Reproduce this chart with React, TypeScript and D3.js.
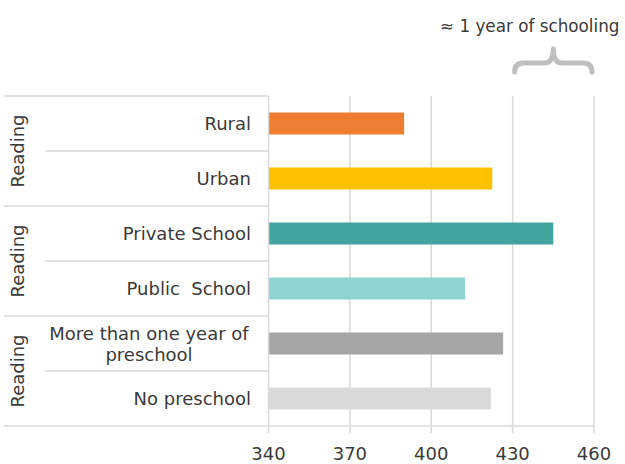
import React from "react";
import * as d3 from "d3";

const categories = ["Rural", "Urban", "Private School", "Public  School", "More than one year of|preschool", "No preschool"];
const values = [390, 422.5, 445, 412.5, 426.5, 422];
const colors = ["#ED7D31", "#FFC000", "#43A39E", "#8DD3CF", "#A5A5A5", "#D9D9D9"];
const groups = ["Reading", "Reading", "Reading"];
const ticks = [340, 370, 400, 430, 460];
const annotation = "≈ 1 year of schooling";
const braceFrom = 430;
const braceTo = 460;

const W = 625;
const H = 464;
const FONT = "'DejaVu Sans', sans-serif";
const TEXT = "#3a3a3a";
const GRID = "#d9d9d9";

export default function App() {
  const left = 268.5;
  const right = 594;
  const top = 96;
  const bottom = 426;
  const x = d3.scaleLinear().domain([340, 460]).range([left, right]);
  const y = d3
    .scaleBand<number>()
    .domain(d3.range(categories.length))
    .range([top, bottom])
    .paddingInner(0.6)
    .paddingOuter(0.3);
  const step = y.step();
  const boundaries = d3.range(categories.length + 1).map((i) => top + i * step);

  const bx0 = x(braceFrom) + 2;
  const bx1 = x(braceTo) - 2;
  const bm = (bx0 + bx1) / 2;
  const byEnd = 72;
  const byMid = 63;
  const byTop = 49;
  const brace = d3.path();
  brace.moveTo(bx0, byEnd);
  brace.quadraticCurveTo(bx0, byMid, bx0 + 9, byMid);
  brace.lineTo(bm - 9, byMid);
  brace.quadraticCurveTo(bm, byMid, bm, byTop);
  brace.quadraticCurveTo(bm, byMid, bm + 9, byMid);
  brace.lineTo(bx1 - 9, byMid);
  brace.quadraticCurveTo(bx1, byMid, bx1, byEnd);

  return (
    <svg
      width={W}
      height={H}
      style={{ position: "absolute", left: 0, top: 0, background: "#fff" }}
      fontFamily={FONT}
    >
      {ticks.slice(1).map((t) => (
        <line key={"g" + t} x1={x(t)} x2={x(t)} y1={top} y2={bottom + 7} stroke={GRID} strokeWidth={1.5} />
      ))}
      {boundaries.map((b, i) => (
        <line
          key={"s" + i}
          x1={i % 2 === 0 ? 4 : 45}
          x2={left}
          y1={b}
          y2={b}
          stroke={GRID}
          strokeWidth={1.5}
        />
      ))}
      {values.map((v, i) => (
        <rect key={"b" + i} x={x(340)} y={y(i)} width={x(v) - x(340)} height={y.bandwidth()} fill={colors[i]} />
      ))}
      <line x1={left} x2={left} y1={top} y2={bottom + 7} stroke={GRID} strokeWidth={1.5} />
      <line x1={left} x2={right} y1={bottom} y2={bottom} stroke={GRID} strokeWidth={1.5} />
      {ticks.map((t) => (
        <text key={"t" + t} x={x(t)} y={460} textAnchor="middle" fontSize={18} fill={TEXT}>
          {t}
        </text>
      ))}
      {categories.map((c, i) => {
        const cy = (y(i) as number) + y.bandwidth() / 2;
        const parts = c.split("|");
        if (parts.length === 1) {
          return (
            <text key={"c" + i} x={251} y={cy + 6.5} textAnchor="end" fontSize={18} fill={TEXT} style={{ whiteSpace: "pre" }}>
              {c}
            </text>
          );
        }
        return (
          <text key={"c" + i} textAnchor="middle" fontSize={18} fill={TEXT}>
            {parts.map((p, j) => (
              <tspan key={j} x={149} y={cy - 4 + j * 21.7}>
                {p}
              </tspan>
            ))}
          </text>
        );
      })}
      {groups.map((g, i) => {
        const cy = top + step * (2 * i + 1);
        return (
          <text key={"gr" + i} transform={`translate(24,${cy}) rotate(-90)`} textAnchor="middle" fontSize={18} fill={TEXT}>
            {g}
          </text>
        );
      })}
      <text x={440} y={31.5} fontSize={16.8} fill={TEXT}>
        {annotation}
      </text>
      <path d={brace.toString()} fill="none" stroke="#bfbfbf" strokeWidth={5} strokeLinecap="round" strokeLinejoin="round" />
    </svg>
  );
}
